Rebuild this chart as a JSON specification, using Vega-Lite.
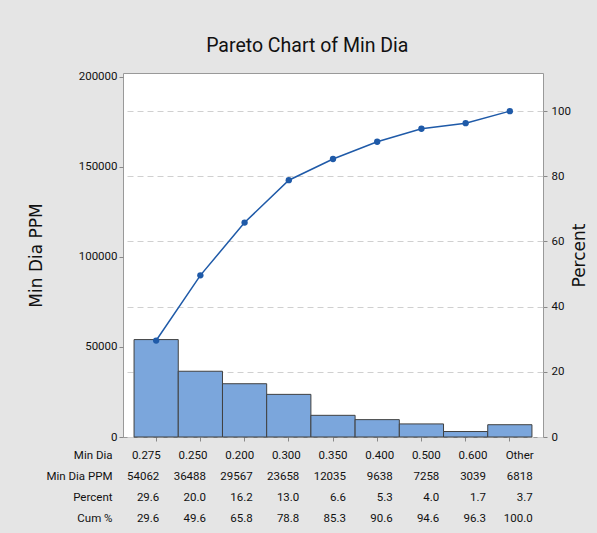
{
  "$schema": "https://vega.github.io/schema/vega-lite/v6.json",
  "background": "#e5e5e5",
  "padding": {"left": 26, "top": 35, "right": 10, "bottom": 4},
  "title": {"text": "Pareto Chart of Min Dia", "font": "Roboto", "fontSize": 19.5, "fontWeight": "normal", "color": "#111111", "offset": 14, "anchor": "middle"},
  "datasets": {
    "main": [
      {"cat": "0.275", "ppm": 54062, "pct": 29.6, "cum": 29.6},
      {"cat": "0.250", "ppm": 36488, "pct": 20.0, "cum": 49.6},
      {"cat": "0.200", "ppm": 29567, "pct": 16.2, "cum": 65.8},
      {"cat": "0.300", "ppm": 23658, "pct": 13.0, "cum": 78.8},
      {"cat": "0.350", "ppm": 12035, "pct": 6.6, "cum": 85.3},
      {"cat": "0.400", "ppm": 9638, "pct": 5.3, "cum": 90.6},
      {"cat": "0.500", "ppm": 7258, "pct": 4.0, "cum": 94.6},
      {"cat": "0.600", "ppm": 3039, "pct": 1.7, "cum": 96.3},
      {"cat": "Other", "ppm": 6818, "pct": 3.7, "cum": 100.0}
    ],
    "table": [
      {"cat": "0.275", "row": "Min Dia", "label": "0.275"},
      {"cat": "0.250", "row": "Min Dia", "label": "0.250"},
      {"cat": "0.200", "row": "Min Dia", "label": "0.200"},
      {"cat": "0.300", "row": "Min Dia", "label": "0.300"},
      {"cat": "0.350", "row": "Min Dia", "label": "0.350"},
      {"cat": "0.400", "row": "Min Dia", "label": "0.400"},
      {"cat": "0.500", "row": "Min Dia", "label": "0.500"},
      {"cat": "0.600", "row": "Min Dia", "label": "0.600"},
      {"cat": "Other", "row": "Min Dia", "label": "Other"},
      {"cat": "0.275", "row": "Min Dia PPM", "label": "54062"},
      {"cat": "0.250", "row": "Min Dia PPM", "label": "36488"},
      {"cat": "0.200", "row": "Min Dia PPM", "label": "29567"},
      {"cat": "0.300", "row": "Min Dia PPM", "label": "23658"},
      {"cat": "0.350", "row": "Min Dia PPM", "label": "12035"},
      {"cat": "0.400", "row": "Min Dia PPM", "label": "9638"},
      {"cat": "0.500", "row": "Min Dia PPM", "label": "7258"},
      {"cat": "0.600", "row": "Min Dia PPM", "label": "3039"},
      {"cat": "Other", "row": "Min Dia PPM", "label": "6818"},
      {"cat": "0.275", "row": "Percent", "label": "29.6"},
      {"cat": "0.250", "row": "Percent", "label": "20.0"},
      {"cat": "0.200", "row": "Percent", "label": "16.2"},
      {"cat": "0.300", "row": "Percent", "label": "13.0"},
      {"cat": "0.350", "row": "Percent", "label": "6.6"},
      {"cat": "0.400", "row": "Percent", "label": "5.3"},
      {"cat": "0.500", "row": "Percent", "label": "4.0"},
      {"cat": "0.600", "row": "Percent", "label": "1.7"},
      {"cat": "Other", "row": "Percent", "label": "3.7"},
      {"cat": "0.275", "row": "Cum %", "label": "29.6"},
      {"cat": "0.250", "row": "Cum %", "label": "49.6"},
      {"cat": "0.200", "row": "Cum %", "label": "65.8"},
      {"cat": "0.300", "row": "Cum %", "label": "78.8"},
      {"cat": "0.350", "row": "Cum %", "label": "85.3"},
      {"cat": "0.400", "row": "Cum %", "label": "90.6"},
      {"cat": "0.500", "row": "Cum %", "label": "94.6"},
      {"cat": "0.600", "row": "Cum %", "label": "96.3"},
      {"cat": "Other", "row": "Cum %", "label": "100.0"}
    ]
  },
  "config": {
    "font": "Roboto",
    "axis": {"labelFont": "Roboto", "labelFontSize": 11.5, "labelColor": "#111111", "tickColor": "#888888", "domain": false, "titleFont": "DejaVu Sans", "titleFontSize": 17, "titleFontWeight": "normal", "titleColor": "#111111"},
    "view": {"stroke": null}
  },
  "spacing": 2,
  "vconcat": [
    {
      "width": 420,
      "height": 364,
      "view": {"fill": "white", "stroke": "#999999", "strokeWidth": 1},
      "data": {"name": "main"},
      "encoding": {
        "x": {"field": "cat", "type": "nominal", "sort": ["0.275", "0.250", "0.200", "0.300", "0.350", "0.400", "0.500", "0.600", "Other"], "scale": {"paddingInner": 0, "paddingOuter": 0.25}, "axis": {"labels": false, "ticks": true, "tickSize": 4, "title": null, "domain": false}}
      },
      "layer": [
        {
          "mark": {"type": "bar", "fill": "#7BA6DC", "stroke": "#404040", "strokeWidth": 1},
          "encoding": {
            "y": {"field": "ppm", "type": "quantitative", "scale": {"domain": [0, 202000], "nice": false}, "axis": {"orient": "left", "values": [0, 50000, 100000, 150000, 200000], "format": "d", "title": "Min Dia PPM", "tickSize": 4, "labelPadding": 2, "titlePadding": 33, "grid": false}}
          }
        },
        {
          "encoding": {
            "y": {"field": "cum", "type": "quantitative", "scale": {"domain": [0, 111.7], "nice": false}, "axis": {"orient": "right", "values": [0, 20, 40, 60, 80, 100], "title": "Percent", "grid": true, "gridDash": [6, 4], "gridColor": "#d0d0d0", "tickSize": 4, "labelPadding": 4, "titlePadding": 18, "titleAngle": 270}}
          },
          "layer": [
            {"mark": {"type": "line", "color": "#1F5AA8", "strokeWidth": 1.5}},
            {"mark": {"type": "point", "filled": true, "color": "#1F5AA8", "size": 40, "opacity": 1}}
          ]
        }
      ],
      "resolve": {"scale": {"y": "independent"}}
    },
    {
      "width": 420,
      "height": 84,
      "data": {"name": "table"},
      "encoding": {
        "x": {"field": "cat", "type": "nominal", "sort": ["0.275", "0.250", "0.200", "0.300", "0.350", "0.400", "0.500", "0.600", "Other"], "scale": {"paddingInner": 0, "paddingOuter": 0.25}, "axis": null},
        "y": {"field": "row", "type": "nominal", "sort": ["Min Dia", "Min Dia PPM", "Percent", "Cum %"], "axis": {"title": null, "ticks": false, "domain": false, "labelPadding": 11, "labelFontSize": 11.5}},
        "text": {"field": "label"}
      },
      "layer": [
        {"transform": [{"filter": "datum.row === 'Min Dia'"}], "mark": {"type": "text", "align": "center", "fontSize": 11.5, "font": "Roboto", "color": "#111111"}},
        {"transform": [{"filter": "datum.row !== 'Min Dia'"}], "mark": {"type": "text", "align": "right", "dx": 13, "fontSize": 11.5, "font": "Roboto", "color": "#111111"}}
      ]
    }
  ]
}
